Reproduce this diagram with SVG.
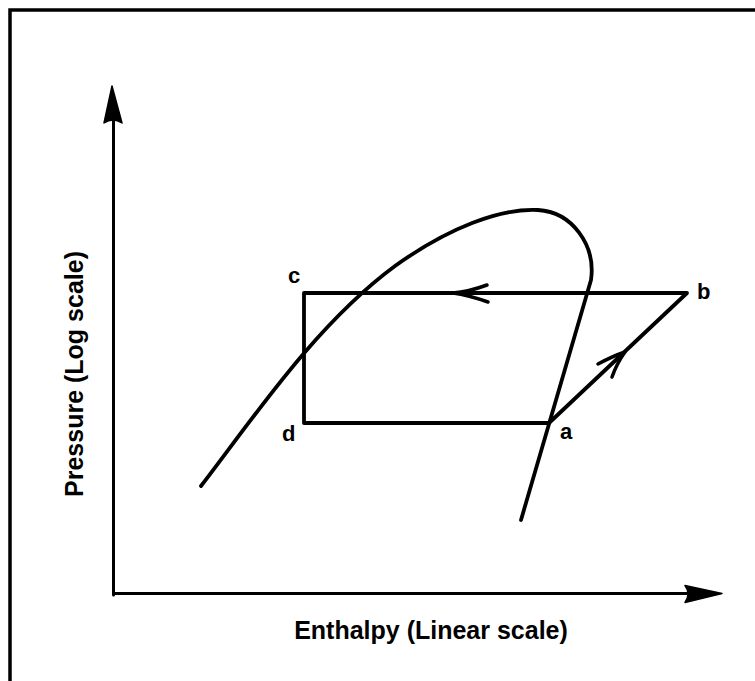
<svg xmlns="http://www.w3.org/2000/svg" width="755" height="681" viewBox="0 0 755 681">
<style>
.frame{stroke:#000;stroke-width:3.5;fill:none}
.axis{stroke:#000;stroke-width:3;fill:none;stroke-linecap:round}
.line{stroke:#000;stroke-width:3.8;fill:none;stroke-linecap:round;stroke-linejoin:round}
.head{fill:#000;stroke:#000;stroke-width:1.5;stroke-linejoin:round}
.barb{stroke:#000;stroke-width:3.5;fill:none;stroke-linecap:round;stroke-linejoin:round}
.lbl{font-family:"Liberation Sans",Arial,sans-serif;font-weight:bold;font-size:22px;fill:#000}
.ax{font-family:"Liberation Sans",Arial,sans-serif;font-weight:bold;font-size:25px;fill:#000}
</style>
<rect width="755" height="681" fill="#fff"/>
<path class="frame" d="M10,681 L10,10 L755,10"/>
<g id="axes">
<path class="axis" d="M113.5,595 L113.5,115"/>
<path class="head" d="M112,86 L104,123 Q113,117 122,123 Z"/>
<path class="axis" d="M113.5,593.5 L692,593.5"/>
<path class="head" d="M722,593.5 L685,585.5 Q691,593.5 685,602.5 Z"/>
</g>
<g id="dome">
<path class="line" d="M201,486 C252,420 315,325 395,266 C448,228 500,208 538,210 C572,212 596,245 591,280 L521,520"/>
</g>
<g id="connectors">
<path class="line" d="M304,293 L687,293 L549,423 L304,423 Z"/>
<path class="barb" d="M487,285 Q468,292 453,293 Q468,295 488,302"/>
<path class="barb" d="M598,364 Q613,356 625,352 Q617,363 612,377"/>
</g>
<g id="node-c"><text class="lbl" x="288" y="283">c</text></g>
<g id="node-b"><text class="lbl" x="697" y="299">b</text></g>
<g id="node-d"><text class="lbl" x="282" y="441">d</text></g>
<g id="node-a"><text class="lbl" x="560" y="439">a</text></g>
<g id="xlabel"><text class="ax" x="431" y="639" text-anchor="middle">Enthalpy (Linear scale)</text></g>
<g id="ylabel"><text class="ax" transform="translate(83,374) rotate(-90)" text-anchor="middle">Pressure (Log scale)</text></g>
</svg>
